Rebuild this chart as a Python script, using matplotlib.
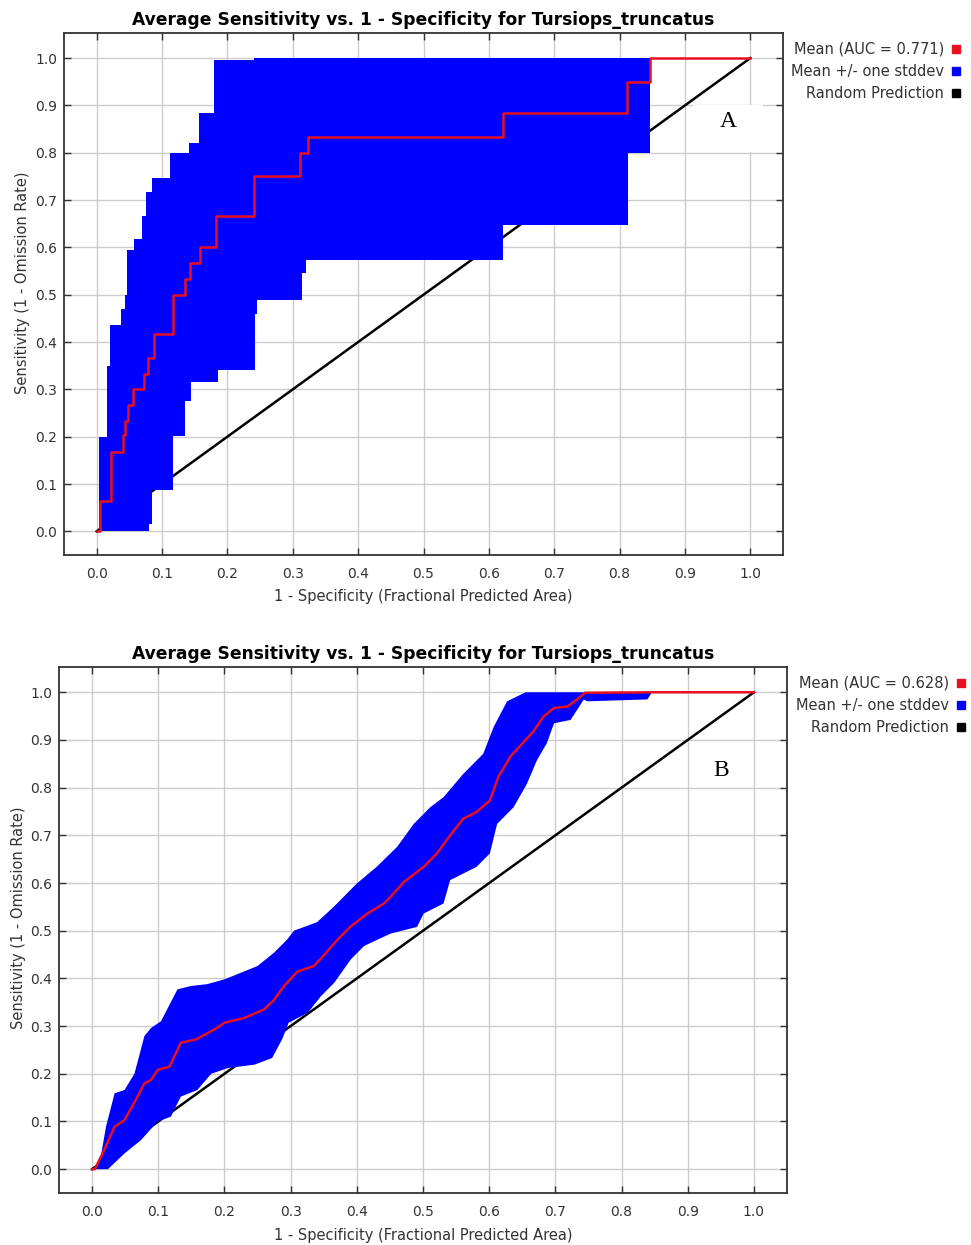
import numpy as np
import matplotlib.pyplot as plt
from matplotlib.lines import Line2D
from matplotlib.patches import Rectangle

# ---- model A: stepwise ROC (step-post knots) ----
meanA_x = [0.0, 0.005, 0.022, 0.040, 0.044, 0.048, 0.056, 0.072, 0.079, 0.087, 0.116,
           0.135, 0.143, 0.158, 0.182, 0.240, 0.311, 0.323, 0.622, 0.812, 0.847, 1.0]
meanA_y = [0.0, 0.065, 0.167, 0.203, 0.233, 0.267, 0.300, 0.333, 0.367, 0.417, 0.500,
           0.533, 0.567, 0.600, 0.667, 0.750, 0.800, 0.833, 0.883, 0.950, 1.000, 1.000]
upA_x = [0.0035, 0.016, 0.020, 0.037, 0.043, 0.046, 0.057, 0.069, 0.076, 0.085, 0.112,
         0.141, 0.156, 0.180, 0.240, 0.849]
upA_y = [0.200, 0.350, 0.437, 0.469, 0.500, 0.594, 0.618, 0.667, 0.717, 0.746, 0.800,
         0.820, 0.885, 0.995, 1.000, 1.000]
lowA_x = [0.0035, 0.080, 0.085, 0.117, 0.135, 0.144, 0.185, 0.242, 0.246, 0.314, 0.320,
          0.622, 0.813, 0.846, 0.849]
lowA_y = [0.000, 0.015, 0.088, 0.202, 0.275, 0.316, 0.340, 0.460, 0.488, 0.545, 0.574,
          0.648, 0.800, 1.000, 1.000]
aucA = 0.771

# ---- model B: smoother ROC ----
meanB_x = [0.0, 0.004, 0.016, 0.034, 0.049, 0.066, 0.079, 0.089, 0.099, 0.117, 0.134,
           0.157, 0.185, 0.200, 0.230, 0.260, 0.275, 0.290, 0.310, 0.335, 0.348, 0.370,
           0.390, 0.416, 0.441, 0.451, 0.471, 0.501, 0.521, 0.541, 0.561, 0.581, 0.601,
           0.614, 0.632, 0.655, 0.667, 0.682, 0.698, 0.718, 0.733, 0.745, 0.850, 1.0]
meanB_y = [0.0, 0.0, 0.033, 0.089, 0.103, 0.145, 0.180, 0.187, 0.208, 0.215, 0.265,
           0.272, 0.293, 0.307, 0.317, 0.335, 0.355, 0.384, 0.414, 0.426, 0.445, 0.480,
           0.508, 0.536, 0.557, 0.571, 0.602, 0.634, 0.662, 0.700, 0.735, 0.749, 0.773,
           0.823, 0.865, 0.900, 0.918, 0.949, 0.967, 0.970, 0.985, 0.999, 1.0, 1.0]
upB_x = [0.004, 0.014, 0.021, 0.034, 0.049, 0.064, 0.079, 0.089, 0.104, 0.129, 0.149,
         0.174, 0.200, 0.225, 0.250, 0.275, 0.295, 0.305, 0.340, 0.365, 0.400, 0.430,
         0.461, 0.486, 0.511, 0.531, 0.561, 0.591, 0.607, 0.627, 0.655, 0.850]
upB_y = [0.0, 0.033, 0.089, 0.159, 0.166, 0.200, 0.279, 0.296, 0.310, 0.377, 0.384,
         0.388, 0.398, 0.412, 0.426, 0.454, 0.482, 0.500, 0.518, 0.550, 0.599, 0.634,
         0.676, 0.724, 0.759, 0.780, 0.829, 0.871, 0.928, 0.981, 1.0, 1.0]
lowB_x = [0.004, 0.024, 0.049, 0.074, 0.099, 0.119, 0.134, 0.159, 0.180, 0.205, 0.245,
          0.272, 0.287, 0.297, 0.326, 0.346, 0.366, 0.391, 0.411, 0.451, 0.491, 0.501,
          0.531, 0.541, 0.581, 0.601, 0.612, 0.637, 0.657, 0.672, 0.687, 0.698, 0.723,
          0.743, 0.748, 0.839, 0.846, 0.850]
lowB_y = [0.0, 0.0, 0.033, 0.061, 0.100, 0.110, 0.152, 0.166, 0.200, 0.212, 0.219,
          0.233, 0.272, 0.307, 0.328, 0.363, 0.391, 0.440, 0.468, 0.494, 0.508, 0.536,
          0.557, 0.606, 0.634, 0.662, 0.724, 0.759, 0.808, 0.857, 0.893, 0.935, 0.942,
          0.985, 0.981, 0.985, 1.0, 1.0]
aucB = 0.628

ticks = np.round(np.arange(0, 1.01, 0.1), 1)
title = 'Average Sensitivity vs. 1 - Specificity for Tursiops_truncatus'
RED, BLUE = '#e8101e', '#0000ff'
GREY = '#333333'


def stairs(xs, ys):
    # vertices of a step-post curve
    return np.repeat(xs, 2)[1:], np.repeat(ys, 2)[:-1]


def setup(ax):
    ax.set_xlim(-0.05, 1.05)
    ax.set_ylim(-0.05, 1.053)
    ax.set_xticks(ticks)
    ax.set_yticks(ticks)
    ax.set_xticklabels([f'{t:.1f}' for t in ticks])
    ax.set_yticklabels([f'{t:.1f}' for t in ticks])
    ax.grid(color='#cccccc', lw=1.0)
    ax.set_axisbelow(True)
    ax.tick_params(direction='in', length=5, width=1, top=True, right=True,
                   colors=GREY, labelsize=10)
    ax.tick_params(axis='x', pad=9)
    ax.tick_params(axis='y', pad=5)
    for s in ax.spines.values():
        s.set_color(GREY)
        s.set_linewidth(1.3)
    ax.set_title(title, fontsize=12.3, fontweight='bold', pad=6)
    ax.set_xlabel('1 - Specificity (Fractional Predicted Area)', fontsize=10.5, color=GREY)
    ax.set_ylabel('Sensitivity (1 - Omission Rate)', fontsize=10.5, color=GREY)
    ax.plot([0, 1], [0, 1], color='black', lw=1.8, zorder=2)


def add_legend(ax, auc, anchor):
    handles = [Line2D([], [], ls='', marker='s', ms=5.5, color=c) for c in (RED, BLUE, 'black')]
    labels = [f'Mean (AUC = {auc:.3f})', 'Mean +/- one stddev', 'Random Prediction']
    fig = ax.figure
    leg = ax.legend(handles, labels, loc='upper left', bbox_to_anchor=anchor,
                    bbox_transform=fig.transFigure, markerfirst=False, frameon=False,
                    handlelength=0.6, handletextpad=0.5, labelspacing=0.47,
                    borderpad=0, borderaxespad=0, fontsize=10.5)
    for t in leg.get_texts():
        t.set_color(GREY)


fig = plt.figure(figsize=(9.71, 12.45), dpi=100)
axA = fig.add_axes([64 / 971, 1 - 555 / 1245, 719 / 971, 522 / 1245])
axB = fig.add_axes([59 / 971, 1 - 1193 / 1245, 728 / 971, 526 / 1245])

# panel A
setup(axA)
ux, uy = stairs(upA_x, upA_y)
lx, ly = stairs(lowA_x, lowA_y)
axA.fill(np.concatenate([ux, lx[::-1]]), np.concatenate([uy, ly[::-1]]),
         color=BLUE, lw=0, zorder=3)
axA.step(meanA_x, meanA_y, where='post', color=RED, lw=1.8, zorder=4)
axA.add_patch(Rectangle((0.875, 0.772), 0.097, 0.09, transform=axA.transAxes,
                        facecolor='white', edgecolor='none', zorder=1))
axA.text(0.924, 0.83, 'A', transform=axA.transAxes, ha='center', va='center',
         fontsize=17, family='Liberation Serif', zorder=5)
add_legend(axA, aucA, (791 / 971, 1 - 42 / 1245))

# panel B
setup(axB)
axB.fill(np.concatenate([upB_x, lowB_x[::-1]]), np.concatenate([upB_y, lowB_y[::-1]]),
         color=BLUE, lw=0, zorder=3)
axB.plot(meanB_x, meanB_y, color=RED, lw=1.8, zorder=4)
axB.text(0.909, 0.803, 'B', transform=axB.transAxes, ha='center', va='center',
         fontsize=17, family='Liberation Serif', zorder=5)
add_legend(axB, aucB, (796 / 971, 1 - 676 / 1245))

for ax, lx_, ly_ in ((axA, -0.058, 0.521), (axB, -0.056, 0.523)):
    ax.yaxis.set_label_coords(lx_, ly_)
    ax.yaxis.label.set_va('center')
    ax.xaxis.set_label_coords(0.5, -0.08)
    ax.xaxis.label.set_va('center')

fig.savefig('out.png', dpi=100)
